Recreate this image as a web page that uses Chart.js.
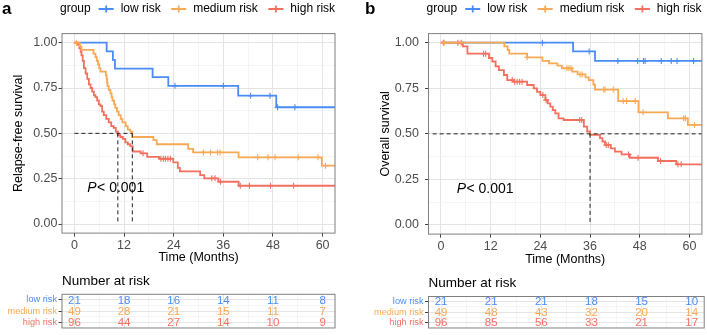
<!DOCTYPE html>
<html>
<head>
<meta charset="utf-8">
<script src="https://cdn.jsdelivr.net/npm/chart.js@4.4.1/dist/chart.umd.min.js"></script>
<style>
  body { margin: 0; width: 707px; height: 335px; background: #fff; position: relative; overflow: hidden; }
  canvas { position: absolute; }
</style>
</head>
<body>
<canvas id="km-a" width="350" height="270" style="left:0;top:0"></canvas>
<canvas id="km-b" width="357" height="270" style="left:350px;top:0"></canvas>
<canvas id="risk-a" width="350" height="65" style="left:0;top:270px"></canvas>
<canvas id="risk-b" width="357" height="65" style="left:350px;top:270px"></canvas>
<script>
const timeTicks = [0, 12, 24, 36, 48, 60];
const groupNames = ['low risk', 'medium risk', 'high risk'];
const groupColors = ['#4A8CF6', '#F8A955', '#F3705F'];

// a : relapse-free survival (months, survival prob.)
const rfsLowTime = [0, 7.8, 9.3, 9.8, 18.9, 22.7, 39.6, 48.8, 66];
const rfsLowSurv = [1, 0.952, 0.905, 0.857, 0.810, 0.762, 0.708, 0.644, 0.644];
const rfsLowCensor = [24.3, 36.0, 42.6, 47.3, 49.1, 53.3];

const rfsMedTime = [0, 1.3, 1.7, 4.6, 5.1, 5.4, 5.7, 6.0, 6.3, 7.6, 7.8, 7.9, 8.0, 8.3, 8.7, 9.0, 9.2, 9.6, 9.9, 10.3, 10.7, 11.2, 11.6, 12.4, 12.9, 13.5, 14.0, 19.1, 19.9, 27.5, 28.7, 39.7, 59.8, 66];
const rfsMedSurv = [1, 0.98, 0.96, 0.94, 0.92, 0.90, 0.88, 0.86, 0.84, 0.82, 0.80, 0.78, 0.76, 0.74, 0.72, 0.70, 0.68, 0.66, 0.64, 0.62, 0.60, 0.58, 0.56, 0.54, 0.52, 0.51, 0.48, 0.463, 0.44, 0.414, 0.395, 0.368, 0.322, 0.322];
const rfsMedCensor = [0.5, 31.2, 32.9, 34.6, 35.2, 44.3, 46.8, 48.5, 54.1, 58.9, 60.7];

const rfsHighTime = [0, 0.8, 1.2, 1.5, 1.7, 2.0, 2.3, 2.7, 3.1, 3.5, 3.9, 4.3, 4.7, 5.1, 5.5, 5.9, 6.3, 6.7, 7.1, 7.7, 8.3, 8.9, 9.5, 10.0, 10.5, 11.1, 11.7, 12.3, 12.9, 13.5, 14.1, 16.0, 17.6, 20.5, 23.9, 25.0, 25.5, 30.4, 31.4, 34.8, 39.7, 66];
const rfsHighSurv = [1, 0.99, 0.97, 0.95, 0.93, 0.90, 0.86, 0.83, 0.80, 0.77, 0.75, 0.73, 0.71, 0.70, 0.68, 0.66, 0.65, 0.62, 0.60, 0.58, 0.56, 0.54, 0.53, 0.51, 0.49, 0.48, 0.47, 0.45, 0.44, 0.43, 0.40, 0.39, 0.37, 0.36, 0.34, 0.31, 0.29, 0.27, 0.252, 0.233, 0.211, 0.211];
const rfsHighCensor = [16.6, 20.9, 21.5, 22.0, 22.6, 23.2, 33.2, 34.0, 35.3, 40.1, 42.3, 47.4, 53.0];

const rfsMedianLine = [0, 14];
const rfsMedians = [10.5, 14];
const rfsRiskLow = [21, 18, 16, 14, 11, 8];
const rfsRiskMed = [49, 28, 21, 15, 11, 7];
const rfsRiskHigh = [96, 44, 27, 14, 10, 9];

// b : overall survival
const osLowTime = [0, 31.9, 37.2, 66];
const osLowSurv = [1, 0.952, 0.900, 0.900];
const osLowCensor = [24.5, 35.8, 42.7, 47.5, 48.9, 49.3, 53.2, 55.6, 57.0, 61.0];

const osMedTime = [0, 15.3, 16.1, 16.5, 20.8, 24.5, 26.1, 28.1, 29.2, 31.7, 33.0, 34.9, 35.7, 36.8, 37.2, 42.8, 47.7, 54.8, 59.6, 66];
const osMedSurv = [1, 0.98, 0.96, 0.94, 0.92, 0.90, 0.887, 0.874, 0.86, 0.841, 0.826, 0.81, 0.795, 0.77, 0.743, 0.68, 0.618, 0.585, 0.549, 0.549];
const osMedCensor = [0.8, 20.8, 30.4, 30.9, 31.4, 33.6, 34.1, 39.3, 39.6, 41.6, 44.0, 44.8, 46.9, 48.8, 58.6, 59.0, 61.2];

const osHighTime = [0, 5.3, 6.4, 11.6, 12.4, 13.2, 14.0, 15.2, 16.0, 17.6, 20.8, 22.4, 23.2, 24.0, 25.2, 25.8, 26.4, 27.0, 27.6, 28.4, 29.6, 34.5, 35.3, 36.0, 38.4, 39.0, 39.6, 41.0, 42.0, 43.6, 45.6, 52.4, 56.8, 66];
const osHighSurv = [1, 0.98, 0.94, 0.916, 0.897, 0.87, 0.85, 0.823, 0.795, 0.786, 0.768, 0.75, 0.73, 0.713, 0.685, 0.667, 0.649, 0.63, 0.612, 0.585, 0.576, 0.54, 0.513, 0.494, 0.476, 0.458, 0.439, 0.42, 0.402, 0.387, 0.369, 0.351, 0.333, 0.333];
const osHighCensor = [0.6, 4.1, 4.9, 10.3, 10.8, 17.2, 17.8, 18.4, 19.0, 19.6, 24.6, 25.4, 33.5, 34.0, 39.9, 40.4, 45.3, 47.6, 53.0, 57.2, 58.0];

const osMedianLine = [-2, 66];
const osMedians = [36];
const osRiskLow = [21, 21, 21, 18, 15, 10];
const osRiskMed = [49, 48, 43, 32, 20, 14];
const osRiskHigh = [96, 85, 56, 33, 21, 17];

const FONT = '"Liberation Sans", Arial, Helvetica, sans-serif';
Chart.defaults.font.family = FONT;

const toPoints = (times, surv) => times.map((t, i) => ({ x: t, y: surv[i] }));

// level of the step curve at time t (for censor marks)
function levelAt(times, surv, t) {
    let s = surv[0];
    for (let i = 0; i < times.length; i++) {
        if (times[i] <= t) s = surv[i];
    }
    return s;
}

const isMajor = ctx => ctx.tick && ctx.tick.major;
const gridColor = ctx => isMajor(ctx) ? '#E4E4E4' : '#F1F1F1';
const tickColor = ctx => isMajor(ctx) ? '#444' : 'rgba(0,0,0,0)';
const gridWidth = ctx => isMajor(ctx) ? 1 : 0.7;

// legend, panel letter, p value, frame and risk counts
const decorPlugin = {
    id: 'decor',
    afterDraw(chart, args, opts) {
        const ctx = chart.ctx;
        const area = chart.chartArea;
        ctx.save();
        ctx.strokeStyle = '#7F7F7F';
        ctx.lineWidth = 1;
        ctx.strokeRect(area.left, area.top, area.right - area.left, area.bottom - area.top);

        if (opts.letter) {
            ctx.fillStyle = '#000';
            ctx.font = 'bold 17px ' + FONT;
            ctx.textBaseline = 'alphabetic';
            ctx.fillText(opts.letter, opts.letterX, 14);
        }
        if (opts.legend) {
            let x = area.left - 2;
            const y = 9;
            ctx.font = '12px ' + FONT;
            ctx.textBaseline = 'middle';
            ctx.fillStyle = '#000';
            ctx.fillText('group', x, y);
            x += ctx.measureText('group').width + 8;
            groupNames.forEach((name, i) => {
                ctx.strokeStyle = groupColors[i];
                ctx.lineWidth = 1.8;
                ctx.beginPath();
                ctx.moveTo(x, y);
                ctx.lineTo(x + 15, y);
                ctx.moveTo(x + 7.5, y - 3.5);
                ctx.lineTo(x + 7.5, y + 3.5);
                ctx.stroke();
                x += 22;
                ctx.fillStyle = '#000';
                ctx.fillText(name, x, y);
                x += ctx.measureText(name).width + 10.5;
            });
        }
        if (opts.pval) {
            const px = chart.scales.x.getPixelForValue(opts.pval[0]);
            const py = chart.scales.y.getPixelForValue(opts.pval[1]);
            ctx.fillStyle = '#000';
            ctx.textBaseline = 'middle';
            ctx.font = 'italic 14px ' + FONT;
            ctx.fillText('P', px, py);
            const w = ctx.measureText('P').width;
            ctx.font = '14px ' + FONT;
            ctx.fillText('< 0.001', px + w + 0.5, py);
        }
        if (opts.title) {
            ctx.fillStyle = '#000';
            ctx.font = '13.5px ' + FONT;
            ctx.textBaseline = 'middle';
            ctx.fillText(opts.title, area.left, opts.titleY);
        }
        if (opts.counts) {
            ctx.font = '11.5px ' + FONT;
            ctx.textAlign = 'center';
            ctx.textBaseline = 'middle';
            opts.counts.forEach((row, r) => {
                const meta = chart.getDatasetMeta(r);
                ctx.fillStyle = groupColors[r];
                meta.data.forEach((pt, i) => ctx.fillText(String(row[i]), pt.x, pt.y + 0.5));
            });
        }
        ctx.restore();
    }
};

function xScale(p, forTable) {
    return {
        type: 'linear', min: -3, max: 63,
        afterBuildTicks: s => { s.ticks = [0, 6, 12, 18, 24, 30, 36, 42, 48, 54, 60].map(v => ({ value: v, major: v % 12 === 0 })); },
        grid: { color: gridColor, tickColor: tickColor, tickLength: forTable ? 0 : 3.5, drawTicks: !forTable, lineWidth: gridWidth },
        border: { display: false },
        ticks: {
            display: !forTable, autoSkip: false, maxRotation: 0, padding: 1,
            color: '#4D4D4D', font: { size: 12.5 },
            callback: v => (v % 12 === 0 ? String(v) : '')
        },
        title: { display: !forTable, text: 'Time (Months)', color: '#000', font: { size: 12.5 }, padding: { top: 0, bottom: p.xTitlePad } },
        afterFit: s => { s.height = forTable ? 0 : p.xHeight; }
    };
}

function kmChart(id, p) {
    const datasets = [];
    // median reference lines
    datasets.push({
        data: [{ x: p.medianLine[0], y: 0.5 }, { x: p.medianLine[1], y: 0.5 }],
        borderColor: '#222', borderWidth: 1, borderDash: [4, 3], pointRadius: 0, clip: 0
    });
    p.medians.forEach(m => {
        datasets.push({
            data: [{ x: m, y: 0.5 }, { x: m, y: 0 }],
            borderColor: '#222', borderWidth: 1, borderDash: [4, 3], pointRadius: 0, clip: 0
        });
    });
    // drawing order: medium on top, then high, then low
    [1, 2, 0].forEach(g => {
        const c = p.curves[g];
        datasets.push({
            data: c.censor.map(t => ({ x: t, y: levelAt(c.time, c.surv, t) })),
            showLine: false, pointStyle: 'cross', pointRadius: 3,
            pointBorderColor: groupColors[g], pointBorderWidth: 1.1, borderColor: groupColors[g]
        });
        datasets.push({
            data: toPoints(c.time, c.surv),
            stepped: 'before', borderColor: groupColors[g], borderWidth: 1.8,
            pointRadius: 0, clip: 0
        });
    });

    return new Chart(document.getElementById(id), {
        type: 'line',
        data: { datasets },
        options: {
            responsive: false, animation: false, events: [],
            layout: { padding: { top: 33.6, right: p.rightPad, left: 0, bottom: 0 } },
            plugins: {
                legend: { display: false }, tooltip: { enabled: false },
                decor: { letter: p.letter, letterX: p.letterX, legend: true, pval: p.pval }
            },
            scales: {
                x: xScale(p, false),
                y: {
                    type: 'linear', min: -0.05, max: 1.05,
                    afterBuildTicks: s => { s.ticks = [0, 0.125, 0.25, 0.375, 0.5, 0.625, 0.75, 0.875, 1].map(v => ({ value: v, major: (v * 4) % 1 === 0 })); },
                    grid: { color: gridColor, tickColor: tickColor, tickLength: 3.5, lineWidth: gridWidth },
                    border: { display: false },
                    ticks: {
                        autoSkip: false, padding: p.yTickPad, color: '#4D4D4D', font: { size: 12.5 },
                        callback: v => ((v * 4) % 1 === 0 ? v.toFixed(2) : '')
                    },
                    title: { display: true, text: p.yTitle, color: '#000', font: { size: 12.5 }, padding: { top: p.yTitlePad, bottom: 0 } },
                    afterFit: s => { s.width = p.yWidth; }
                }
            }
        },
        plugins: [decorPlugin]
    });
}

function riskChart(id, p) {
    const datasets = p.counts.map((row, r) => ({
        data: timeTicks.map(t => ({ x: t, y: r + 1 })),
        showLine: false, pointRadius: 0
    }));
    return new Chart(document.getElementById(id), {
        type: 'line',
        data: { datasets },
        options: {
            responsive: false, animation: false, events: [],
            layout: { padding: { top: p.top, right: p.rightPad, left: 0, bottom: p.bottom } },
            plugins: {
                legend: { display: false }, tooltip: { enabled: false },
                decor: { title: 'Number at risk', titleY: p.titleY, counts: p.counts }
            },
            scales: {
                x: xScale(p, true),
                y: {
                    type: 'linear', min: 0.5, max: 3.5, reverse: true,
                    afterBuildTicks: s => { s.ticks = [1, 1.5, 2, 2.5, 3].map(v => ({ value: v, major: v % 1 === 0 })); },
                    grid: { color: gridColor, tickColor: tickColor, tickLength: 3.5, lineWidth: gridWidth },
                    border: { display: false },
                    ticks: {
                        autoSkip: false, padding: 1.5, font: { size: 9.2 },
                        color: ctx => groupColors[Math.round(ctx.tick.value) - 1] || '#000',
                        callback: v => (v % 1 === 0 ? groupNames[v - 1] : '')
                    },
                    afterFit: s => { s.width = p.yWidth; }
                }
            }
        },
        plugins: [decorPlugin]
    });
}

kmChart('km-a', {
    letter: 'a', letterX: 2, yTitle: 'Relapse-free survival', yTitlePad: 11, yWidth: 62, yTickPad: 1, rightPad: 15,
    xHeight: 36.9, xTitlePad: 4.5, pval: [3.1, 0.2],
    medianLine: rfsMedianLine, medians: rfsMedians,
    curves: [
        { time: rfsLowTime, surv: rfsLowSurv, censor: rfsLowCensor },
        { time: rfsMedTime, surv: rfsMedSurv, censor: rfsMedCensor },
        { time: rfsHighTime, surv: rfsHighSurv, censor: rfsHighCensor }
    ]
});

kmChart('km-b', {
    letter: 'b', letterX: 15, yTitle: 'Overall survival', yTitlePad: 28, yWidth: 78.5, yTickPad: 6, rightPad: 2.8,
    xHeight: 35.9, xTitlePad: 2.5, pval: [3.8, 0.196],
    medianLine: osMedianLine, medians: osMedians,
    curves: [
        { time: osLowTime, surv: osLowSurv, censor: osLowCensor },
        { time: osMedTime, surv: osMedSurv, censor: osMedCensor },
        { time: osHighTime, surv: osHighSurv, censor: osHighCensor }
    ]
});

riskChart('risk-a', { top: 24.3, bottom: 2.7, rightPad: 15, yWidth: 62, titleY: 11, counts: [rfsRiskLow, rfsRiskMed, rfsRiskHigh] });
riskChart('risk-b', { top: 26.5, bottom: 1, rightPad: 2.8, yWidth: 78.5, titleY: 13.3, counts: [osRiskLow, osRiskMed, osRiskHigh] });
</script>
</body>
</html>
